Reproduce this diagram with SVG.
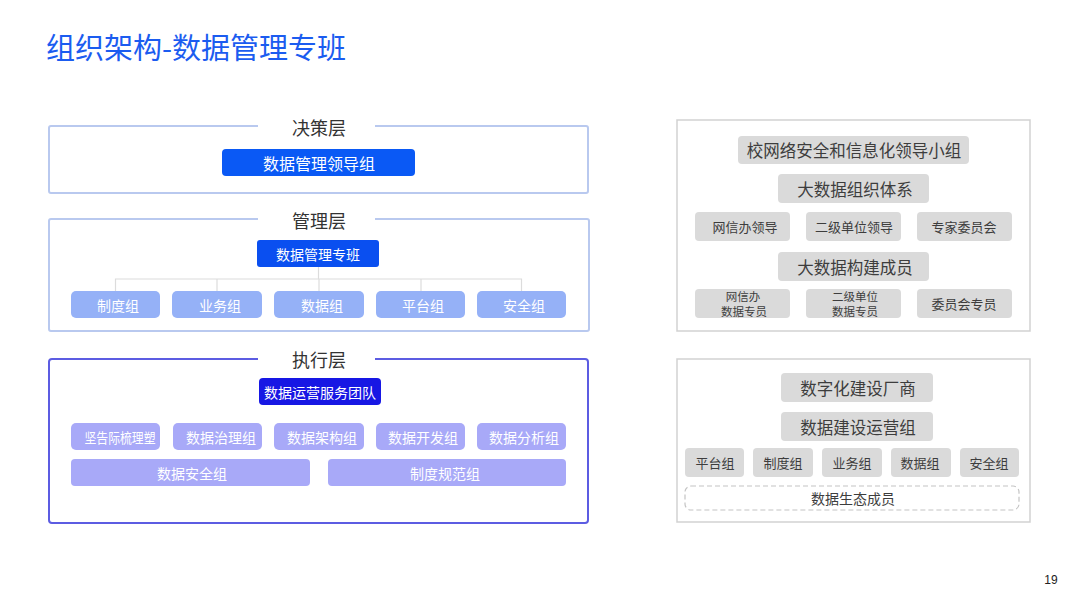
<svg xmlns="http://www.w3.org/2000/svg" width="1080" height="608" viewBox="0 0 1080 608">
<style>
text{font-family:"Noto Sans CJK SC","Liberation Sans",sans-serif;dominant-baseline:central;text-anchor:middle}
.panelA{fill:#fff;stroke:#b9c9ef;stroke-width:2}
.panelB{fill:#fff;stroke:#5c5ce2;stroke-width:2}
.panelG{fill:#fff;stroke:#d2d2d2;stroke-width:1.5}
.gap{fill:#fff}
.lt{font-size:18px;fill:#333}
.main1{fill:#0a59f5}
.main2{fill:#0a4ff0}
.main3{fill:#1717e4}
.wt{fill:#fff}
.mg{fill:#95b1f7}
.ex{fill:#a8a9f8}
.gb{fill:#dadada}
.gt{fill:#3d3d3d}
.conn{stroke:#dcdcdc;stroke-width:1.2;fill:none}
</style>
<rect width="1080" height="608" fill="#fff"/>
<text id="title" x="46" y="46" style="text-anchor:start;font-size:29px;fill:#1b5cf0">组织架构-数据管理专班</text>

<g id="layer-decision">
<rect class="panelA" x="49" y="126" width="539" height="67" rx="2"/>
<rect class="gap" x="258" y="116" width="117" height="20"/>
<text class="lt" x="319" y="127">决策层</text>
</g>
<g id="n-lead">
<rect class="main1" x="222" y="149" width="193" height="27" rx="4"/>
<text class="wt" x="319" y="162.5" style="font-size:16px">数据管理领导组</text>
</g>

<g id="layer-manage">
<rect class="panelA" x="49" y="219" width="540" height="112" rx="2"/>
<rect class="gap" x="258" y="209" width="117" height="20"/>
<text class="lt" x="319" y="220">管理层</text>
</g>
<g id="connectors">
<path class="conn" d="M318.5 267V279M115.5 291V279H521.5V291M217 279V291M319 279V291M421 279V291"/>
</g>
<g id="n-zb">
<rect class="main2" x="257" y="240" width="122" height="27" rx="3"/>
<text class="wt" x="318" y="253.5" style="font-size:14px">数据管理专班</text>
</g>
<g id="m1"><rect class="mg" x="71" y="291" width="89" height="27" rx="5"/><text class="wt" x="118" y="304.5" style="font-size:14px">制度组</text></g>
<g id="m2"><rect class="mg" x="172" y="291" width="90" height="27" rx="5"/><text class="wt" x="220" y="304.5" style="font-size:14px">业务组</text></g>
<g id="m3"><rect class="mg" x="274" y="291" width="90" height="27" rx="5"/><text class="wt" x="322" y="304.5" style="font-size:14px">数据组</text></g>
<g id="m4"><rect class="mg" x="376" y="291" width="89" height="27" rx="5"/><text class="wt" x="423" y="304.5" style="font-size:14px">平台组</text></g>
<g id="m5"><rect class="mg" x="477" y="291" width="89" height="27" rx="5"/><text class="wt" x="524" y="304.5" style="font-size:14px">安全组</text></g>

<g id="layer-exec">
<rect class="panelB" x="49" y="359" width="539" height="164" rx="3"/>
<rect class="gap" x="258" y="349" width="117" height="20"/>
<text class="lt" x="319" y="359">执行层</text>
</g>
<g id="n-ops">
<rect class="main3" x="259" y="378" width="122" height="27" rx="4"/>
<text class="wt" x="320" y="391.5" style="font-size:14px">数据运营服务团队</text>
</g>
<g id="e1"><rect class="ex" x="71" y="423" width="89" height="27" rx="5"/><text class="wt" x="120" y="436.5" style="font-size:14px" textLength="71" lengthAdjust="spacingAndGlyphs">坚告际梳理塑</text></g>
<g id="e2"><rect class="ex" x="173" y="423" width="89" height="27" rx="5"/><text class="wt" x="221" y="436.5" style="font-size:14px">数据治理组</text></g>
<g id="e3"><rect class="ex" x="274" y="423" width="90" height="27" rx="5"/><text class="wt" x="322" y="436.5" style="font-size:14px">数据架构组</text></g>
<g id="e4"><rect class="ex" x="376" y="423" width="89" height="27" rx="5"/><text class="wt" x="423" y="436.5" style="font-size:14px">数据开发组</text></g>
<g id="e5"><rect class="ex" x="477" y="423" width="89" height="27" rx="5"/><text class="wt" x="524" y="436.5" style="font-size:14px">数据分析组</text></g>
<g id="e6"><rect class="ex" x="71" y="459" width="239" height="27" rx="4"/><text class="wt" x="192" y="472.5" style="font-size:14px">数据安全组</text></g>
<g id="e7"><rect class="ex" x="328" y="459" width="238" height="27" rx="4"/><text class="wt" x="445" y="472.5" style="font-size:14px">制度规范组</text></g>

<g id="panel-right1"><rect class="panelG" x="677" y="120" width="353" height="211"/></g>
<g id="r1"><rect class="gb" x="738" y="136" width="231" height="28" rx="4"/><text class="gt" x="854" y="150" style="font-size:16.5px">校网络安全和信息化领导小组</text></g>
<g id="r2"><rect class="gb" x="778" y="174" width="151" height="29" rx="4"/><text class="gt" x="855" y="188.5" style="font-size:16.5px">大数据组织体系</text></g>
<g id="r3"><rect class="gb" x="695" y="212" width="95" height="29" rx="4"/><text class="gt" x="745" y="226.5" style="font-size:13px">网信办领导</text></g>
<g id="r4"><rect class="gb" x="806" y="212" width="95" height="29" rx="4"/><text class="gt" x="854" y="226.5" style="font-size:13px">二级单位领导</text></g>
<g id="r5"><rect class="gb" x="917" y="212" width="95" height="29" rx="4"/><text class="gt" x="964" y="226.5" style="font-size:13px">专家委员会</text></g>
<g id="r6"><rect class="gb" x="778" y="252" width="151" height="29" rx="4"/><text class="gt" x="855" y="266.5" style="font-size:16.5px">大数据构建成员</text></g>
<g id="r7"><rect class="gb" x="695" y="289" width="95" height="29" rx="4"/><text class="gt" style="font-size:11.5px"><tspan x="743" y="296">网信办</tspan><tspan x="744" y="311">数据专员</tspan></text></g>
<g id="r8"><rect class="gb" x="806" y="289" width="95" height="29" rx="4"/><text class="gt" style="font-size:11.5px"><tspan x="855" y="296">二级单位</tspan><tspan x="855" y="311">数据专员</tspan></text></g>
<g id="r9"><rect class="gb" x="917" y="289" width="95" height="29" rx="4"/><text class="gt" x="964" y="303.5" style="font-size:13px">委员会专员</text></g>

<g id="panel-right2"><rect class="panelG" x="677" y="359" width="353" height="163"/></g>
<g id="s1"><rect class="gb" x="781" y="373" width="152" height="29" rx="4"/><text class="gt" x="858" y="387.5" style="font-size:16.5px">数字化建设厂商</text></g>
<g id="s2"><rect class="gb" x="781" y="412" width="152" height="29" rx="4"/><text class="gt" x="858" y="426.5" style="font-size:16.5px">数据建设运营组</text></g>
<g id="s3"><rect class="gb" x="685" y="448" width="59" height="29" rx="4"/><text class="gt" x="715" y="462.5" style="font-size:13px">平台组</text></g>
<g id="s4"><rect class="gb" x="753" y="448" width="60" height="29" rx="4"/><text class="gt" x="783" y="462.5" style="font-size:13px">制度组</text></g>
<g id="s5"><rect class="gb" x="822" y="448" width="60" height="29" rx="4"/><text class="gt" x="852" y="462.5" style="font-size:13px">业务组</text></g>
<g id="s6"><rect class="gb" x="891" y="448" width="60" height="29" rx="4"/><text class="gt" x="920" y="462.5" style="font-size:13px">数据组</text></g>
<g id="s7"><rect class="gb" x="960" y="448" width="59" height="29" rx="4"/><text class="gt" x="989" y="462.5" style="font-size:13px">安全组</text></g>
<g id="s8"><rect x="685" y="486" width="334" height="24" rx="6" fill="none" stroke="#c4c4c4" stroke-width="1.2" stroke-dasharray="5 3"/><text class="gt" x="853" y="498" style="font-size:14px">数据生态成员</text></g>

<text id="page" x="1051" y="580" style="font-size:12px;fill:#222;font-family:'Liberation Sans',sans-serif">19</text>
</svg>
